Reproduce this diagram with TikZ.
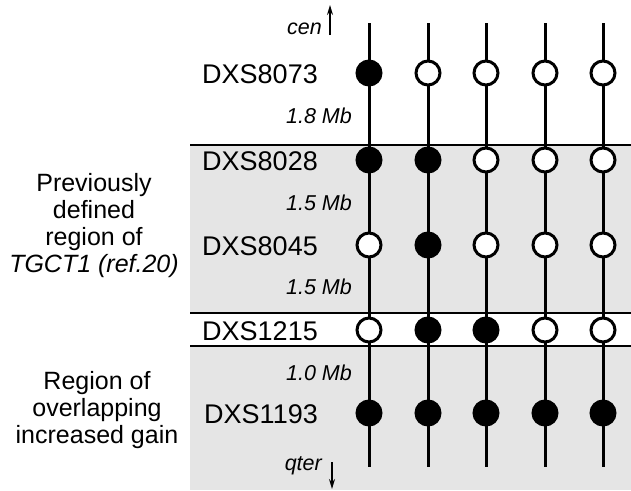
\documentclass[tikz,border=0pt]{standalone}
\usepackage{fontspec}
\setmainfont{Liberation Sans}
\usepackage{xcolor}
\usetikzlibrary{arrows.meta}

\begin{document}
\begin{tikzpicture}[x=1pt,y=-1pt,
                marker/.style={anchor=east,inner sep=0pt,font=\fontsize{27}{29}\selectfont},
                dist/.style={anchor=east,inner sep=0pt,font=\fontsize{21.5}{23}\selectfont\itshape},
                yes/.style={circle,draw=black,fill=black,line width=3pt,minimum size=24pt,inner sep=0pt},
                no/.style={yes,fill=white},
                region/.style={align=center,inner sep=0pt,font=\fontsize{25}{27}\selectfont},
                strand/.style={black,line width=3pt},
                rule/.style={black,line width=1.5pt},
                ends/.style={black,line width=1.3pt,-{Stealth[length=10pt,width=6pt]}}]

                \useasboundingbox (0,0) rectangle (631,490);

                %% shading
                \fill[black!10] (190,145) rectangle (631,313);
                \fill[black!10] (190,346) rectangle (631,490);
                \draw[rule] (190,145) -- (631,145);
                \draw[rule] (190,313) -- (631,313);
                \draw[rule] (190,346) -- (631,346);

                %% strands
                \coordinate (t1) at (369,23);  \coordinate (b1) at (369,467);
                \coordinate (t2) at (428,23);  \coordinate (b2) at (428,467);
                \coordinate (t3) at (486,23);  \coordinate (b3) at (486,467);
                \coordinate (t4) at (545,23);  \coordinate (b4) at (545,467);
                \coordinate (t5) at (603,23);  \coordinate (b5) at (603,467);
                \draw[strand] (t1) -- (b1);
                \draw[strand] (t2) -- (b2);
                \draw[strand] (t3) -- (b3);
                \draw[strand] (t4) -- (b4);
                \draw[strand] (t5) -- (b5);

                %cen
                \node[dist] (cen) at (322,29) {cen};
                \coordinate (cenlo) at (330,35);
                \coordinate (cenhi) at (330,5);
                \draw[ends] (cenlo) -- (cenhi);

                %DXS8073
                \node[marker] (m8073) at (318,74) {DXS8073};
                \node[yes] (a1) at (369,73) {};
                \node[no]  (a2) at (428,73) {};
                \node[no]  (a3) at (486,73) {};
                \node[no]  (a4) at (545,73) {};
                \node[no]  (a5) at (603,73) {};
                \node[dist] (d1) at (352,116) {1.8 Mb};

                %DXS8028
                \node[marker] (m8028) at (318,161) {DXS8028};
                \node[yes] (b1c) at (369,160) {};
                \node[yes] (b2c) at (428,160) {};
                \node[no]  (b3c) at (486,160) {};
                \node[no]  (b4c) at (545,160) {};
                \node[no]  (b5c) at (603,160) {};
                \node[dist] (d2) at (352,203) {1.5 Mb};

                %DXS8045
                \node[marker] (m8045) at (318,246) {DXS8045};
                \node[no]  (c1) at (369,245) {};
                \node[yes] (c2) at (428,245) {};
                \node[no]  (c3) at (486,245) {};
                \node[no]  (c4) at (545,245) {};
                \node[no]  (c5) at (603,245) {};
                \node[dist] (d3) at (352,287) {1.5 Mb};

                %DXS1215
                \node[marker] (m1215) at (318,331) {DXS1215};
                \node[no]  (e1) at (369,330) {};
                \node[yes] (e2) at (428,330) {};
                \node[yes] (e3) at (486,330) {};
                \node[no]  (e4) at (545,330) {};
                \node[no]  (e5) at (603,330) {};
                \node[dist] (d4) at (352,373) {1.0 Mb};

                %DXS1193
                \node[marker] (m1193) at (318,414) {DXS1193};
                \node[yes] (f1) at (369,413) {};
                \node[yes] (f2) at (428,413) {};
                \node[yes] (f3) at (486,413) {};
                \node[yes] (f4) at (545,413) {};
                \node[yes] (f5) at (603,413) {};

                %qter
                \node[dist] (qter) at (322,466) {qter};
                \coordinate (qterhi) at (332,462);
                \coordinate (qterlo) at (332,489);
                \draw[ends] (qterhi) -- (qterlo);

                %% regions
                \node[region] (prev) at (94,226) {Previously\\defined\\region of\\\textit{TGCT1 (ref.20)}};
                \node[region] (gain) at (97,410) {Region of\\overlapping\\increased gain};

\end{tikzpicture}
\end{document}
